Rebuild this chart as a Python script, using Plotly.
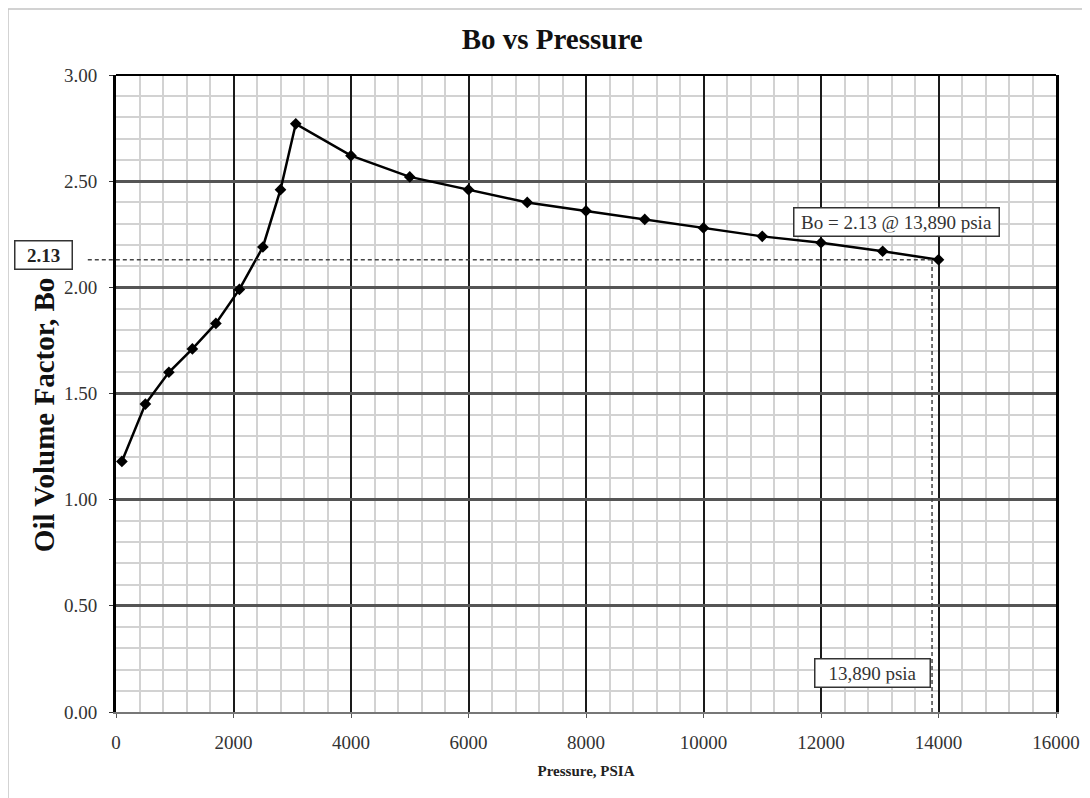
import plotly.graph_objects as go

# Bo vs pressure data
pressure = [100, 500, 900, 1300, 1700, 2100, 2500, 2800, 3060, 4000, 5000, 6000,
            7000, 8000, 9000, 10000, 11000, 12000, 13050, 14000]
bo = [1.18, 1.45, 1.60, 1.71, 1.83, 1.99, 2.19, 2.46, 2.77, 2.62, 2.52, 2.46,
      2.40, 2.36, 2.32, 2.28, 2.24, 2.21, 2.17, 2.13]

target_p = 13890
target_bo = 2.13

x_ticks = [0, 2000, 4000, 6000, 8000, 10000, 12000, 14000, 16000]
y_ticks = [0.0, 0.5, 1.0, 1.5, 2.0, 2.5, 3.0]

X_MAX = 16000
Y_MAX = 3.0

serif = "Liberation Serif"

fig = go.Figure()
fig.add_trace(go.Scatter(
    x=pressure, y=bo,
    mode="lines+markers",
    line=dict(color="black", width=2.5),
    marker=dict(symbol="diamond", size=9, color="black"),
    showlegend=False,
))

fig.update_layout(
    width=1090, height=798,
    margin=dict(l=108, r=42, t=67, b=94),
    paper_bgcolor="white", plot_bgcolor="white",
    font=dict(family=serif, color="#333"),
    title=dict(text="<b>Bo vs Pressure</b>", x=0.464, xref="paper", xanchor="center",
               y=0.961, yref="container", yanchor="middle",
               font=dict(size=29, color="#111", family=serif)),
    xaxis=dict(
        range=[0, X_MAX], tickvals=x_ticks, ticktext=[str(v) for v in x_ticks],
        showgrid=True, gridcolor="#1a1a1a", gridwidth=2,
        minor=dict(dtick=400, showgrid=True, gridcolor="#d2d2d2", gridwidth=1.5),
        showline=True, linecolor="#777", linewidth=2,
        ticks="outside", ticklen=4, tickcolor="#555",
        ticklabelstandoff=8,
        tickfont=dict(size=19, family=serif, color="#333"),
        zeroline=False,
        title=dict(text="<b>Pressure, PSIA</b>", font=dict(size=15, family=serif, color="#222"),
                   standoff=14),
    ),
    yaxis=dict(
        range=[0, Y_MAX], tickvals=y_ticks, ticktext=["%.2f" % v for v in y_ticks],
        showgrid=True, gridcolor="#555", gridwidth=2.5,
        minor=dict(dtick=0.1, showgrid=True, gridcolor="#d2d2d2", gridwidth=1.5),
        showline=True, linecolor="black", linewidth=3, mirror=True,
        ticks="outside", ticklen=4, tickcolor="#333",
        ticklabelstandoff=8,
        tickfont=dict(size=19, family=serif, color="#333"),
        zeroline=False,
    ),
)

px_frac = target_p / X_MAX
py_frac = target_bo / Y_MAX

fig.add_shape(type="line", xref="paper", yref="paper", x0=0, x1=1, y0=1, y1=1,
              line=dict(color="black", width=2))
fig.add_shape(type="line", xref="paper", yref="paper", x0=-0.03, x1=px_frac,
              y0=py_frac, y1=py_frac, line=dict(color="#444", width=1.5, dash="4px,3px"))
fig.add_shape(type="line", xref="paper", yref="paper", x0=px_frac, x1=px_frac,
              y0=0, y1=py_frac, line=dict(color="#444", width=1.5, dash="4px,3px"))
# outer chart border
fig.add_shape(type="rect", xref="paper", yref="paper", x0=-0.1149, x1=1.06,
              y0=-0.17, y1=1.1036, line=dict(color="#c4c4c4", width=1.5))

# y axis title placed by hand (sits lower than the plot middle in the original)
fig.add_annotation(xref="paper", yref="paper", x=-0.0766, y=0.466,
                   xanchor="center", yanchor="middle",
                   text="<b>Oil Volume Factor, Bo</b>", textangle=-90, showarrow=False,
                   font=dict(size=29, family=serif, color="#111"))

fig.add_annotation(xref="paper", yref="paper", x=-0.0766, y=0.7174,
                   xanchor="center", yanchor="middle",
                   text="<b>%.2f</b>" % target_bo, showarrow=False,
                   font=dict(size=19, family=serif, color="#222"),
                   bordercolor="#333", borderwidth=1.5, bgcolor="white",
                   borderpad=3, width=50)
fig.add_annotation(xref="x", yref="y", x=13278, y=2.306,
                   xanchor="center", yanchor="middle",
                   text="Bo = %.2f @ %s psia" % (target_bo, format(target_p, ",")),
                   showarrow=False, font=dict(size=19, family=serif, color="#333"),
                   bordercolor="#333", borderwidth=1.5, bgcolor="white",
                   borderpad=3, width=198)
fig.add_annotation(xref="x", yref="y", x=12885, y=0.184,
                   xanchor="center", yanchor="middle",
                   text="%s psia" % format(target_p, ","), showarrow=False,
                   font=dict(size=19, family=serif, color="#333"),
                   bordercolor="#333", borderwidth=1.5, bgcolor="white",
                   borderpad=3, width=108)

fig.write_html("out.html")
